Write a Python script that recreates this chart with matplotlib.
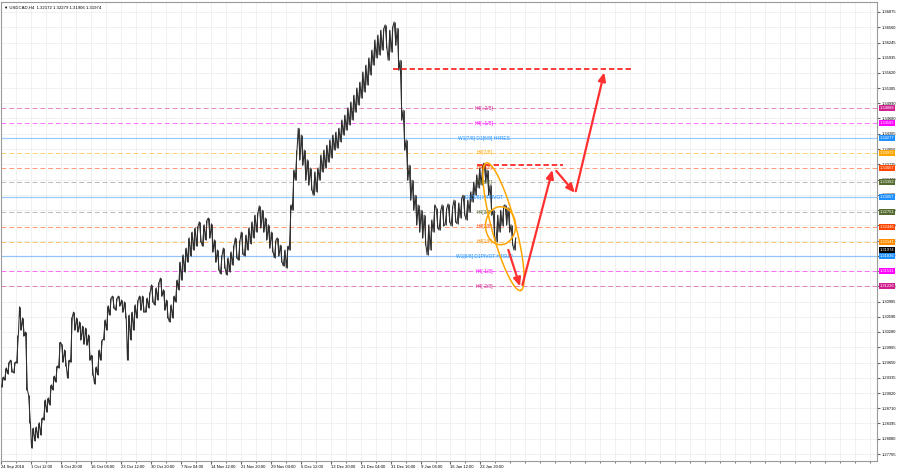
import numpy as np
import matplotlib
matplotlib.use('Agg')
import matplotlib.pyplot as plt
from matplotlib.transforms import blended_transform_factory

plt.rcParams['font.family'] = ['Liberation Sans', 'DejaVu Sans']

HEADER = "\u25BC USDCAD,H4  1.32172 1.32279 1.31906 1.31974"

# H4 price trace, one entry per ~3 bars (high / low of the group)
bar_high = [
    1.2935, 1.2954, 1.2966, 1.2970, 1.2966, 1.3022, 1.3080, 1.3057, 1.3028, 1.2898,
    1.2830, 1.2832, 1.2841, 1.2851, 1.2888, 1.2892, 1.2919, 1.2937, 1.2958, 1.3007,
    1.3003, 1.2991, 1.2970, 1.3059, 1.3069, 1.3057, 1.3049, 1.3040, 1.3036, 1.3022,
    1.2980, 1.2956, 1.2991, 1.3012, 1.3053, 1.3082, 1.3098, 1.3102, 1.3098, 1.3102,
    1.3094, 1.3090, 1.3063, 1.3069, 1.3084, 1.3094, 1.3102, 1.3102, 1.3098, 1.3111,
    1.3125, 1.3119, 1.3131, 1.3139, 1.3115, 1.3094, 1.3084, 1.3102, 1.3135, 1.3172,
    1.3187, 1.3201, 1.3222, 1.3234, 1.3243, 1.3247, 1.3255, 1.3249, 1.3259, 1.3263,
    1.3251, 1.3218, 1.3197, 1.3187, 1.3201, 1.3181, 1.3193, 1.3207, 1.3222, 1.3218,
    1.3234, 1.3228, 1.3243, 1.3255, 1.3269, 1.3275, 1.3288, 1.3279, 1.3263, 1.3249,
    1.3234, 1.3218, 1.3222, 1.3207, 1.3197, 1.3205, 1.3290, 1.3362, 1.3403, 1.3448,
    1.3434, 1.3403, 1.3383, 1.3366, 1.3358, 1.3366, 1.3393, 1.3403, 1.3413, 1.3424,
    1.3434, 1.3440, 1.3448, 1.3465, 1.3475, 1.3490, 1.3502, 1.3516, 1.3531, 1.3543,
    1.3564, 1.3578, 1.3593, 1.3609, 1.3630, 1.3640, 1.3650, 1.3654, 1.3661, 1.3650,
    1.3658, 1.3667, 1.3654, 1.3588, 1.3485, 1.3424, 1.3372, 1.3341, 1.3310, 1.3290,
    1.3279, 1.3269, 1.3249, 1.3259, 1.3290, 1.3284, 1.3279, 1.3290, 1.3284, 1.3292,
    1.3288, 1.3300, 1.3294, 1.3304, 1.3310, 1.3300, 1.3317, 1.3337, 1.3352, 1.3366,
    1.3372, 1.3376, 1.3362, 1.3331, 1.3279, 1.3269, 1.3279, 1.3288, 1.3290, 1.3284,
    1.3249, 1.3222,
]
bar_low = [
    1.2915, 1.2929, 1.2942, 1.2946, 1.2944, 1.2964, 1.3032, 1.3020, 1.2909, 1.2841,
    1.2789, 1.2804, 1.2810, 1.2816, 1.2847, 1.2863, 1.2878, 1.2909, 1.2925, 1.2954,
    1.2966, 1.2958, 1.2933, 1.2966, 1.3032, 1.3028, 1.3012, 1.3003, 1.3001, 1.2970,
    1.2940, 1.2921, 1.2940, 1.2970, 1.3012, 1.3032, 1.3063, 1.3078, 1.3073, 1.3082,
    1.3069, 1.3057, 1.2970, 1.3012, 1.3032, 1.3057, 1.3073, 1.3069, 1.3069, 1.3078,
    1.3090, 1.3084, 1.3094, 1.3102, 1.3073, 1.3057, 1.3049, 1.3057, 1.3090, 1.3115,
    1.3135, 1.3152, 1.3172, 1.3185, 1.3197, 1.3205, 1.3214, 1.3205, 1.3218, 1.3222,
    1.3193, 1.3172, 1.3156, 1.3148, 1.3160, 1.3146, 1.3152, 1.3166, 1.3181, 1.3176,
    1.3189, 1.3185, 1.3197, 1.3210, 1.3222, 1.3234, 1.3243, 1.3234, 1.3218, 1.3201,
    1.3193, 1.3181, 1.3185, 1.3172, 1.3164, 1.3160, 1.3197, 1.3279, 1.3341, 1.3383,
    1.3372, 1.3341, 1.3331, 1.3321, 1.3310, 1.3317, 1.3341, 1.3358, 1.3366, 1.3378,
    1.3387, 1.3403, 1.3407, 1.3420, 1.3434, 1.3444, 1.3455, 1.3465, 1.3481, 1.3496,
    1.3510, 1.3523, 1.3537, 1.3558, 1.3578, 1.3593, 1.3599, 1.3609, 1.3613, 1.3588,
    1.3605, 1.3619, 1.3568, 1.3465, 1.3403, 1.3341, 1.3300, 1.3279, 1.3249, 1.3234,
    1.3222, 1.3207, 1.3187, 1.3197, 1.3234, 1.3243, 1.3238, 1.3247, 1.3249, 1.3255,
    1.3247, 1.3255, 1.3251, 1.3263, 1.3269, 1.3259, 1.3275, 1.3296, 1.3310, 1.3325,
    1.3331, 1.3337, 1.3310, 1.3269, 1.3218, 1.3214, 1.3234, 1.3247, 1.3249, 1.3234,
    1.3207, 1.3197,
]

time_labels = ['24 Sep 2018', '1 Oct 12:00', '8 Oct 20:00', '16 Oct 04:00', '23 Oct 12:00',
               '30 Oct 20:00', '7 Nov 04:00', '14 Nov 12:00', '21 Nov 20:00', '29 Nov 04:00',
               '6 Dec 12:00', '13 Dec 20:00', '21 Dec 04:00', '31 Dec 16:00', '9 Jan 04:00',
               '16 Jan 12:00', '23 Jan 20:00']

price_ticks = [1.36875, 1.36560, 1.36245, 1.35935, 1.35620, 1.35305, 1.34990, 1.34680,
               1.34365, 1.34050, 1.33735, 1.33420, 1.33105, 1.32790, 1.32480, 1.32165,
               1.31850, 1.31535, 1.31220, 1.30905, 1.30590, 1.30280, 1.29965, 1.29650,
               1.29335, 1.29020, 1.28710, 1.28395, 1.28080, 1.27765]

# Murrey / pivot levels
level_prices = [1.34888, 1.34583, 1.34277, 1.33972, 1.33667, 1.33362, 1.33057,
                1.32751, 1.32446, 1.32141, 1.31836, 1.31531, 1.31226]
level_names = ['H4[+2/8]', 'H4[+1/8]', 'W1[7/8] D1[6/8] H4RES', 'H4[7/8]', 'H4[6/8]',
               'H4[5/8]', 'D1[5/8] H4PIVOT', 'H4[3/8]', 'H4[2/8]', 'H4[1/8]',
               'W1[6/8] D1PIVOT H4SUP', 'H4[-1/8]', 'H4[-2/8]']
level_colors = ['#D0208F', '#FF00FF', '#1E90FF', '#FFA500', '#FF4500', '#556B2F', '#1E90FF',
                '#556B2F', '#FF4500', '#FF8C00', '#1E90FF', '#FF00FF', '#D0208F']
level_line_colors = ['#D0208F', '#FF00FF', '#1E90FF', '#FFA500', '#FF4500', '#808080', '#1E90FF',
                     '#808080', '#FF4500', '#FF8C00', '#1E90FF', '#FF00FF', '#D0208F']
level_solid = [False, False, True, False, False, False, True, False, False, False, True, False, False]
current_price = 1.31974

# target lines (start bar, end bar, price)
target_start = [130.7, 158.7]
target_end = [210.7, 187.7]
target_price = [1.35694, 1.33721]

# projected path
proj_x = [169.3, 173.2, 174.0, 184.0, 185.3, 191.5, 191.8, 201.3]
proj_y = [1.3197, 1.3122, 1.3125, 1.3362, 1.3360, 1.3315, 1.3318, 1.3563]

fig = plt.figure(figsize=(9, 4.7), dpi=100)
ax = fig.add_axes([1 / 900, 9 / 470, 876 / 900, 459 / 470])
ax.set_xlim(0, 292.33)
ax.set_ylim(1.27621, 1.37081)

# grid
ax.set_xticks(np.arange(len(time_labels)) * 10)
ax.set_xticks(np.arange(0, 292, 5), minor=True)
ax.set_yticks(price_ticks)
ax.grid(True, which='both', axis='x', color='#ececec', lw=0.5)
ax.grid(True, which='major', axis='y', color='#ececec', lw=0.5)
ax.set_axisbelow(True)

# levels
for p, c, solid in zip(level_prices, level_line_colors, level_solid):
    if solid:
        ax.axhline(p, color=c, lw=0.9, alpha=0.45, zorder=1)
    else:
        ax.axhline(p, color=c, lw=0.7, alpha=0.55, ls=(0, (5, 3)), zorder=1)

# candles: bar ranges plus a zigzag through highs and lows
xs = np.arange(len(bar_high)) + 0.5
ax.vlines(xs, bar_low, bar_high, color='#3a3a3a', lw=0.7, zorder=3)
zx, zy = [], []
for i in range(len(bar_high)):
    j = min(i + 1, len(bar_high) - 1)
    mid_next = (bar_high[j] + bar_low[j]) / 2
    mid = (bar_high[i] + bar_low[i]) / 2
    zx += [i + 0.2, i + 0.8]
    if mid_next >= mid:
        zy += [bar_low[i], bar_high[i]]
    else:
        zy += [bar_high[i], bar_low[i]]
ax.plot(zx, zy, color='#2e2e2e', lw=0.75, zorder=3)

# level texts
for p, name, c in zip(level_prices, level_names, level_colors):
    ax.text(161.3, p, name, color=c, fontsize=3.5, ha='center', va='center', zorder=5)

# red dashed target lines
for x0, x1, p in zip(target_start, target_end, target_price):
    ax.plot([x0, x1], [p, p], color='#FF2A2A', lw=1.3, ls=(0, (3, 1.6)), zorder=4)

# projected arrows
for k in range(0, len(proj_x), 2):
    ax.annotate('', xy=(proj_x[k + 1], proj_y[k + 1]), xytext=(proj_x[k], proj_y[k]),
                arrowprops=dict(arrowstyle='-|>,head_length=0.5,head_width=0.22',
                                color='#FF3030', lw=1.6, shrinkA=0, shrinkB=0), zorder=6)

# orange ellipses (centre in data, size in pixels)
def ellipse(cx, cy, a, b, ang):
    t = np.linspace(0, 2 * np.pi, 200)
    c = ax.transData.transform((cx, cy))
    r = np.deg2rad(ang)
    px = a * np.cos(t) * np.cos(r) - b * np.sin(t) * np.sin(r)
    py = a * np.cos(t) * np.sin(r) + b * np.sin(t) * np.cos(r)
    pts = ax.transData.inverted().transform(np.column_stack([c[0] + px, c[1] + py]))
    ax.plot(pts[:, 0], pts[:, 1], color='#FFA500', lw=1.1, zorder=5)

ellipse(167.7, 1.3245, 66, 12, -75)
ellipse(166.7, 1.3247, 15, 19, 0)

# header
ax.text(0.003, 0.993, HEADER, transform=ax.transAxes, fontsize=3.1, ha='left', va='top',
        family=['Liberation Sans', 'DejaVu Sans'])

# axes style
for s in ax.spines.values():
    s.set_color('#9a9a9a')
    s.set_linewidth(0.8)
ax.yaxis.tick_right()
ax.set_yticklabels(['%.5f' % p for p in price_ticks], fontsize=2.9)
ax.set_xticklabels(time_labels, fontsize=3.0, ha='left')
ax.tick_params(axis='y', length=2, pad=1.2, color='#666666')
ax.tick_params(axis='x', which='major', length=2, pad=1, color='#666666')
ax.tick_params(axis='x', which='minor', length=1.2, color='#666666')

# price boxes on the right axis
tr = blended_transform_factory(ax.transAxes, ax.transData)
for p, c in zip(level_prices + [current_price], level_colors + ['#000000']):
    ax.text(1.003, p, '%.5f' % p, transform=tr, fontsize=2.9, color='white', ha='left',
            va='center', clip_on=False, zorder=10,
            bbox=dict(boxstyle='square,pad=0.25', fc=c, ec='none'))

fig.savefig('out.png', dpi=100, facecolor='white')
